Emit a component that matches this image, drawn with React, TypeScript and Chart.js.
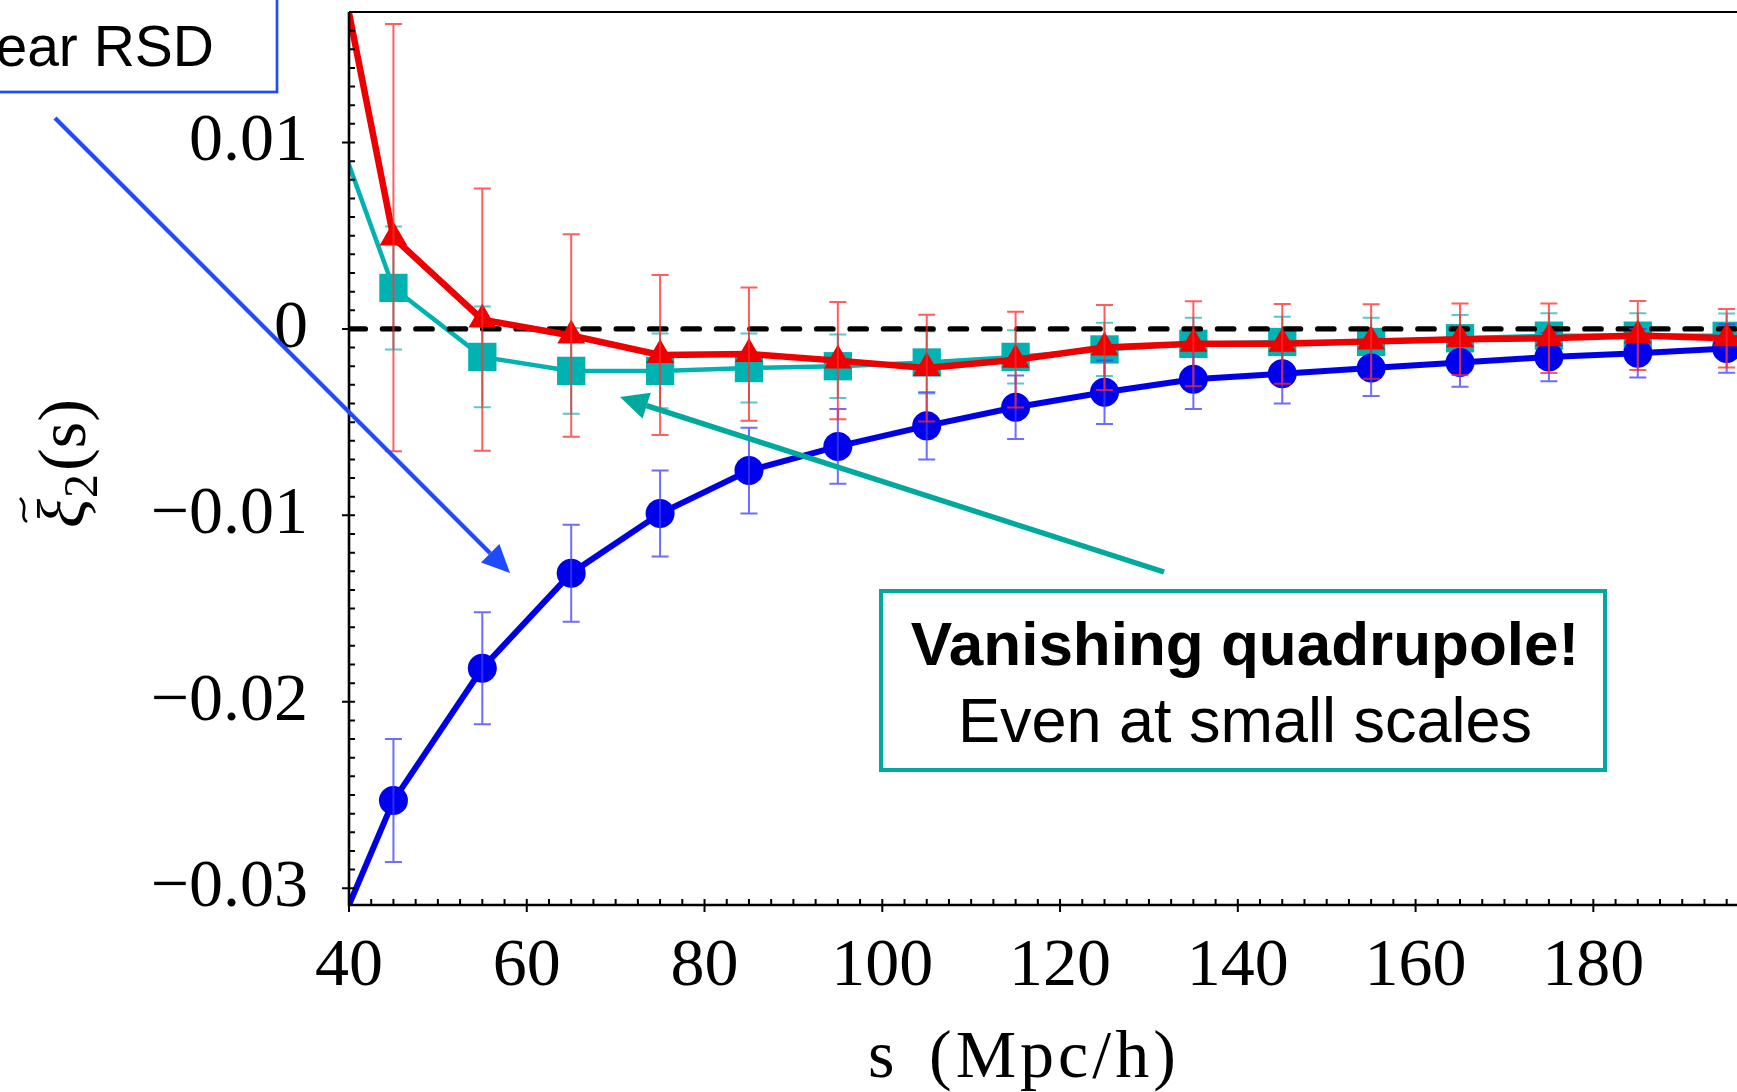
import { useEffect, useRef } from 'react';
import { Chart, registerables } from 'chart.js';

Chart.register(...registerables);

// ---------- data ----------
const sValues = [35, 45, 55, 65, 75, 85, 95, 105, 115, 125, 135, 145, 155, 165, 175, 185, 195, 205];

const blueValues = [-0.0365, -0.0253, -0.0182, -0.0131, -0.0099, -0.0076, -0.0063, -0.0052, -0.0042, -0.0034, -0.0027, -0.0024, -0.0021, -0.0018, -0.0015, -0.0013, -0.00105, -0.0009];
const blueErrors = [0, 0.0033, 0.003, 0.0026, 0.0023, 0.0023, 0.002, 0.0018, 0.0017, 0.0017, 0.0016, 0.0016, 0.0015, 0.0013, 0.0013, 0.0013, 0.0013, 0];

const cyanValues = [0.0154, 0.0022, -0.0015, -0.00225, -0.00225, -0.0021, -0.002, -0.0018, -0.0015, -0.0011, -0.0008, -0.0007, -0.0007, -0.0005, -0.00036, -0.00036, -0.00037, -0.0003];
const cyanErrors = [0, 0.0033, 0.0027, 0.0023, 0.002, 0.00185, 0.0017, 0.00167, 0.00143, 0.00143, 0.0014, 0.00135, 0.0013, 0.00125, 0.0012, 0.0012, 0.0012, 0];

const redValues = [0.029, 0.0049, 0.0005, -0.00035, -0.0014, -0.00135, -0.0017, -0.0021, -0.00165, -0.001, -0.0008, -0.0008, -0.00067, -0.00055, -0.0005, -0.00035, -0.0005, -0.0006];
const redErrors = [0, 0.01146, 0.00703, 0.00543, 0.00429, 0.00357, 0.00315, 0.00286, 0.00257, 0.00228, 0.00228, 0.00214, 0.002, 0.00192, 0.00187, 0.00185, 0.00157, 0];

const zeroLineX = [40, 200];
const zeroLineY = [0, 0];

const xTickValues = [40, 60, 80, 100, 120, 140, 160, 180];
const xTickLabels = ['40', '60', '80', '100', '120', '140', '160', '180'];
const yTickValues = [-0.03, -0.02, -0.01, 0, 0.01];
const yTickLabels = ['\u22120.03', '\u22120.02', '\u22120.01', '0', '0.01'];

const X_MIN = 40;
const X_MAX = 196.5;
const Y_MIN = -0.0309;
const Y_MAX = 0.017;

const SERIF = "'Liberation Serif', 'DejaVu Serif', serif";
const SANS = "'Liberation Sans', Arial, sans-serif";

const pts = (xs: number[], ys: number[]) => xs.map((x, i) => ({ x, y: ys[i] }));
const radiusInside = (r: number) => (c: any) => (c.raw && (c.raw.x < X_MIN || c.raw.x > X_MAX) ? 0 : r);

function drawArrow(ctx: CanvasRenderingContext2D, x1: number, y1: number, x2: number, y2: number, color: string, w: number, headLen: number, headHalf: number) {
  const ang = Math.atan2(y2 - y1, x2 - x1);
  const bx = x2 - headLen * Math.cos(ang);
  const by = y2 - headLen * Math.sin(ang);
  ctx.save();
  ctx.strokeStyle = color;
  ctx.lineWidth = w;
  ctx.beginPath();
  ctx.moveTo(x1, y1);
  ctx.lineTo(bx, by);
  ctx.stroke();
  ctx.fillStyle = color;
  ctx.beginPath();
  ctx.moveTo(x2, y2);
  ctx.lineTo(bx + headHalf * Math.sin(ang), by - headHalf * Math.cos(ang));
  ctx.lineTo(bx - headHalf * Math.sin(ang), by + headHalf * Math.cos(ang));
  ctx.closePath();
  ctx.fill();
  ctx.restore();
}

const decorPlugin = {
  id: 'decor',
  afterDatasetDraw(chart: any, args: any) {
    const ds = chart.data.datasets[args.index] as any;
    const errs: number[] | undefined = ds.errors;
    if (!errs) return;
    const { ctx, chartArea: a } = chart;
    const xs = chart.scales.x;
    const ys = chart.scales.y;
    ctx.save();
    ctx.beginPath();
    ctx.rect(a.left, a.top, a.right - a.left, a.bottom - a.top);
    ctx.clip();
    ctx.strokeStyle = ds.errorColor;
    ctx.lineWidth = 2;
    const cap = 8.5;
    errs.forEach((e: number, i: number) => {
      if (!e) return;
      const p = ds.data[i];
      const px = xs.getPixelForValue(p.x);
      const y1 = ys.getPixelForValue(p.y + e);
      const y2 = ys.getPixelForValue(p.y - e);
      ctx.beginPath();
      ctx.moveTo(px, y1);
      ctx.lineTo(px, y2);
      ctx.moveTo(px - cap, y1);
      ctx.lineTo(px + cap, y1);
      ctx.moveTo(px - cap, y2);
      ctx.lineTo(px + cap, y2);
      ctx.stroke();
    });
    ctx.restore();
  },
  afterDraw(chart: any) {
    const { ctx, chartArea: a } = chart;
    const xs = chart.scales.x;
    const ys = chart.scales.y;
    ctx.save();
    // ticks
    ctx.strokeStyle = '#000';
    ctx.lineWidth = 2;
    ctx.beginPath();
    for (let k = -30; k <= 17; k++) {
      const y = ys.getPixelForValue(k / 1000);
      const major = k % 10 === 0;
      ctx.moveTo(major ? a.left - 7 : a.left, y);
      ctx.lineTo(a.left + 6, y);
    }
    for (let i = 0; X_MIN + i * 2.5 <= X_MAX; i++) {
      const v = X_MIN + i * 2.5;
      const px = xs.getPixelForValue(v);
      const major = i % 8 === 0;
      ctx.moveTo(px, a.bottom - 6);
      ctx.lineTo(px, major ? a.bottom + 7 : a.bottom);
    }
    ctx.stroke();
    // frame
    ctx.lineWidth = 2.6;
    ctx.beginPath();
    ctx.moveTo(a.left, a.top);
    ctx.lineTo(a.left, a.bottom);
    ctx.lineTo(a.right, a.bottom);
    ctx.stroke();
    ctx.lineWidth = 2;
    ctx.beginPath();
    ctx.moveTo(a.left, a.top);
    ctx.lineTo(a.right, a.top);
    ctx.stroke();

    // x axis title
    ctx.fillStyle = '#000';
    ctx.textBaseline = 'alphabetic';
    ctx.textAlign = 'left';
    ctx.font = `68px ${SERIF}`;
    ctx.fillText('s', 868, 1077);
    try { (ctx as any).letterSpacing = '4px'; } catch (e) {}
    ctx.fillText('(Mpc/h)', 929, 1077);
    try { (ctx as any).letterSpacing = '0px'; } catch (e) {}

    // y axis title (rotated)
    ctx.save();
    ctx.translate(85, 528);
    ctx.rotate(-Math.PI / 2);
    ctx.font = `italic 68px ${SERIF}`;
    ctx.fillText('\u03BE', 0, 0);
    const wXi = ctx.measureText('\u03BE').width;
    ctx.lineWidth = 2.6;
    ctx.beginPath();
    ctx.moveTo(6, -58);
    ctx.bezierCurveTo(12, -67, 20, -55, 30, -65);
    ctx.stroke();
    ctx.font = `48px ${SERIF}`;
    ctx.fillText('2', wXi + 1, 12);
    const w2 = ctx.measureText('2').width;
    ctx.font = `68px ${SERIF}`;
    ctx.fillText('(s)', wXi + w2 + 4, 0);
    ctx.restore();

    // blue annotation box (partly off canvas)
    ctx.fillStyle = '#fff';
    ctx.fillRect(-20, -20, 297, 112);
    ctx.strokeStyle = '#1f4bff';
    ctx.lineWidth = 2.7;
    ctx.strokeRect(-20, -20, 297, 112);
    ctx.fillStyle = '#000';
    ctx.font = `57px ${SANS}`;
    ctx.textAlign = 'right';
    ctx.fillText('Linear RSD', 214, 66);

    // arrows
    drawArrow(ctx, 55, 118, 510, 573, '#1f4bff', 4.2, 28, 13);
    drawArrow(ctx, 1164, 572, 620, 397, '#00a99d', 5.5, 28, 13.5);

    // teal annotation box
    ctx.fillStyle = '#fff';
    ctx.fillRect(881, 591, 724, 179);
    ctx.strokeStyle = '#00a99d';
    ctx.lineWidth = 4;
    ctx.strokeRect(881, 591, 724, 179);
    ctx.fillStyle = '#000';
    ctx.textAlign = 'center';
    ctx.font = `bold 62px ${SANS}`;
    ctx.fillText('Vanishing quadrupole!', 1245, 665);
    ctx.font = `63px ${SANS}`;
    ctx.fillText('Even at small scales', 1245, 742);
    ctx.restore();
  },
};

export default function App() {
  const ref = useRef<HTMLCanvasElement>(null);
  useEffect(() => {
    document.body.style.margin = '0';
    const canvas = ref.current!;
    const chart = new Chart(canvas, {
      type: 'line',
      data: {
        datasets: [
          {
            label: 'red',
            data: pts(sValues, redValues),
            borderColor: '#ee0000',
            backgroundColor: '#ee0000',
            borderWidth: 6.5,
            pointStyle: 'triangle',
            pointRadius: radiusInside(16),
            pointBorderWidth: 0,
            pointBackgroundColor: '#ee0000',
            clip: 0,
            errors: redErrors,
            errorColor: 'rgba(255,40,40,0.75)',
          } as any,
          {
            label: 'blue',
            data: pts(sValues, blueValues),
            borderColor: '#0000e6',
            backgroundColor: '#0000ee',
            borderWidth: 6,
            pointStyle: 'circle',
            pointRadius: radiusInside(14.5),
            pointBorderWidth: 0,
            pointBackgroundColor: '#0000ee',
            clip: 0,
            errors: blueErrors,
            errorColor: 'rgba(60,60,255,0.75)',
          } as any,
          {
            label: 'zero',
            data: pts(zeroLineX, zeroLineY),
            borderColor: '#000',
            borderWidth: 5.3,
            borderDash: [16.4, 17],
            borderCapStyle: 'round',
            pointRadius: 0,
            clip: 0,
          } as any,
          {
            label: 'cyan',
            data: pts(sValues, cyanValues),
            borderColor: '#00b2b2',
            backgroundColor: '#00b2b2',
            borderWidth: 4.5,
            pointStyle: 'rect',
            pointRadius: radiusInside(20),
            pointBorderWidth: 0,
            pointBackgroundColor: '#00b2b2',
            clip: 0,
            errors: cyanErrors,
            errorColor: 'rgba(40,190,190,0.8)',
          } as any,
        ],
      },
      options: {
        animation: false,
        responsive: false,
        devicePixelRatio: 1,
        events: [],
        layout: { padding: { top: 12, left: 0, right: 0, bottom: 0 } },
        plugins: { legend: { display: false }, tooltip: { enabled: false } },
        scales: {
          x: {
            type: 'linear',
            min: X_MIN,
            max: X_MAX,
            grid: { display: false },
            border: { display: false },
            afterBuildTicks: (scale: any) => {
              scale.ticks = xTickValues.map((v) => ({ value: v }));
            },
            afterFit: (scale: any) => {
              scale.height = 187;
              scale.paddingLeft = 0;
              scale.paddingRight = 0;
              scale.paddingTop = 0;
              scale.paddingBottom = 0;
            },
            ticks: {
              autoSkip: false,
              maxRotation: 0,
              padding: 13,
              color: '#000',
              font: { family: SERIF, size: 68 },
              callback: (_v: any, i: number) => xTickLabels[i],
            },
          },
          y: {
            type: 'linear',
            min: Y_MIN,
            max: Y_MAX,
            grid: { display: false },
            border: { display: false },
            afterBuildTicks: (scale: any) => {
              scale.ticks = yTickValues.map((v) => ({ value: v }));
            },
            afterFit: (scale: any) => {
              scale.width = 349;
              scale.paddingLeft = 0;
              scale.paddingRight = 0;
              scale.paddingTop = 0;
              scale.paddingBottom = 0;
            },
            ticks: {
              autoSkip: false,
              padding: 33,
              color: '#000',
              font: { family: SERIF, size: 68 },
              callback: (_v: any, i: number) => yTickLabels[i],
            },
          },
        },
      } as any,
      plugins: [decorPlugin as any],
    });
    return () => chart.destroy();
  }, []);
  return (
    <div style={{ position: 'fixed', left: 0, top: 0, width: 1737, height: 1092, overflow: 'hidden', background: '#fff' }}>
      <canvas ref={ref} width={1740} height={1092} style={{ display: 'block', width: 1740, height: 1092 }} />
    </div>
  );
}
